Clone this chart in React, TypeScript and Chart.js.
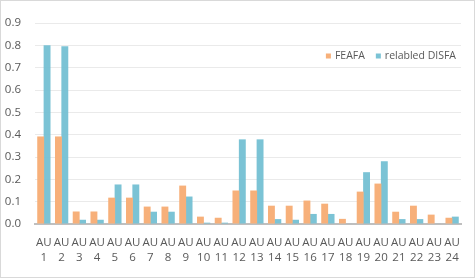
import React, { useEffect, useRef } from "react";
import { Chart, registerables } from "chart.js";

Chart.register(...registerables);

const categories: string[][] = [
  ["AU", "1"], ["AU", "2"], ["AU", "3"], ["AU", "4"], ["AU", "5"], ["AU", "6"],
  ["AU", "7"], ["AU", "8"], ["AU", "9"], ["AU", "10"], ["AU", "11"], ["AU", "12"],
  ["AU", "13"], ["AU", "14"], ["AU", "15"], ["AU", "16"], ["AU", "17"], ["AU", "18"],
  ["AU", "19"], ["AU", "20"], ["AU", "21"], ["AU", "22"], ["AU", "23"], ["AU", "24"],
];

const feafa: number[] = [
  0.392, 0.392, 0.056, 0.056, 0.118, 0.118, 0.078, 0.078, 0.172, 0.033, 0.028, 0.150,
  0.150, 0.082, 0.082, 0.105, 0.091, 0.023, 0.145, 0.181, 0.055, 0.082, 0.042, 0.028,
];

const disfa: number[] = [
  0.800, 0.796, 0.019, 0.019, 0.177, 0.177, 0.055, 0.055, 0.123, 0.006, 0.006, 0.379,
  0.379, 0.022, 0.019, 0.045, 0.045, 0.002, 0.232, 0.281, 0.022, 0.022, 0.002, 0.033,
];

const seriesNames = ["FEAFA", "relabled DISFA"];
const yTicksMax = 0.9;
const yStep = 0.1;

const FONT = "'Open Sans', 'Noto Sans', sans-serif";
const TEXT = "#595959";
const LEGEND_FONT = `10.5px ${FONT}`;

const insideLegend = {
  id: "insideLegend",
  afterDatasetsDraw(chart: any) {
    const { ctx, chartArea } = chart;
    const box = 5;
    const gapBoxText = 4;
    const gapItems = 11;
    ctx.save();
    ctx.font = LEGEND_FONT;
    ctx.textBaseline = "middle";
    ctx.textAlign = "left";
    const items = chart.data.datasets.map((d: any) => ({
      text: d.label as string,
      color: d.backgroundColor as string,
      w: ctx.measureText(d.label).width,
    }));
    let total = 0;
    items.forEach((it: any, i: number) => {
      total += box + gapBoxText + it.w + (i < items.length - 1 ? gapItems : 0);
    });
    let x = chartArea.right - 5 - total;
    const y = chartArea.top + 33;
    items.forEach((it: any) => {
      ctx.fillStyle = it.color;
      ctx.fillRect(x, y - box / 2, box, box);
      x += box + gapBoxText;
      ctx.fillStyle = TEXT;
      ctx.fillText(it.text, x, y);
      x += it.w + gapItems;
    });
    ctx.restore();
  },
};

export default function App() {
  const ref = useRef<HTMLCanvasElement | null>(null);

  useEffect(() => {
    document.body.style.margin = "0";
    const canvas = ref.current;
    if (!canvas) return;
    const chart = new Chart(canvas, {
      type: "bar",
      data: {
        labels: categories,
        datasets: [
          {
            label: seriesNames[0],
            data: feafa,
            backgroundColor: "#F7B07A",
            barPercentage: 1.08,
            categoryPercentage: 0.72,
          },
          {
            label: seriesNames[1],
            data: disfa,
            backgroundColor: "rgba(116,192,211,0.95)",
            barPercentage: 1.08,
            categoryPercentage: 0.72,
          },
        ],
      },
      options: {
        responsive: false,
        animation: false,
        maintainAspectRatio: false,
        layout: { padding: { left: 4, right: 13, top: 22, bottom: 0 } },
        plugins: {
          tooltip: { enabled: false },
          legend: { display: false },
        },
        scales: {
          x: {
            grid: { display: false },
            border: { display: true, color: "#BFBFBF", width: 2 },
            ticks: {
              color: TEXT,
              font: { family: FONT, size: 11.5, lineHeight: 1.3 },
              maxRotation: 0,
              autoSkip: false,
              padding: 3,
            },
            afterFit: (s: any) => { s.height = 53; },
          },
          y: {
            min: 0,
            max: yTicksMax,
            grid: { color: "#EAEAEA", drawTicks: false, lineWidth: 1 },
            border: { display: false },
            ticks: {
              stepSize: yStep,
              color: TEXT,
              font: { family: FONT, size: 11.5 },
              padding: 14,
              callback: (v: any) => Number(v).toFixed(1),
            },
            afterFit: (s: any) => { s.width = 30; },
          },
        },
      },
      plugins: [insideLegend],
    });
    return () => chart.destroy();
  }, []);

  return (
    <div
      style={{
        width: 475,
        height: 278,
        border: "1px solid #D9D9D9",
        boxSizing: "border-box",
        background: "#fff",
      }}
    >
      <canvas ref={ref} width={473} height={276} style={{ display: "block" }} />
    </div>
  );
}
